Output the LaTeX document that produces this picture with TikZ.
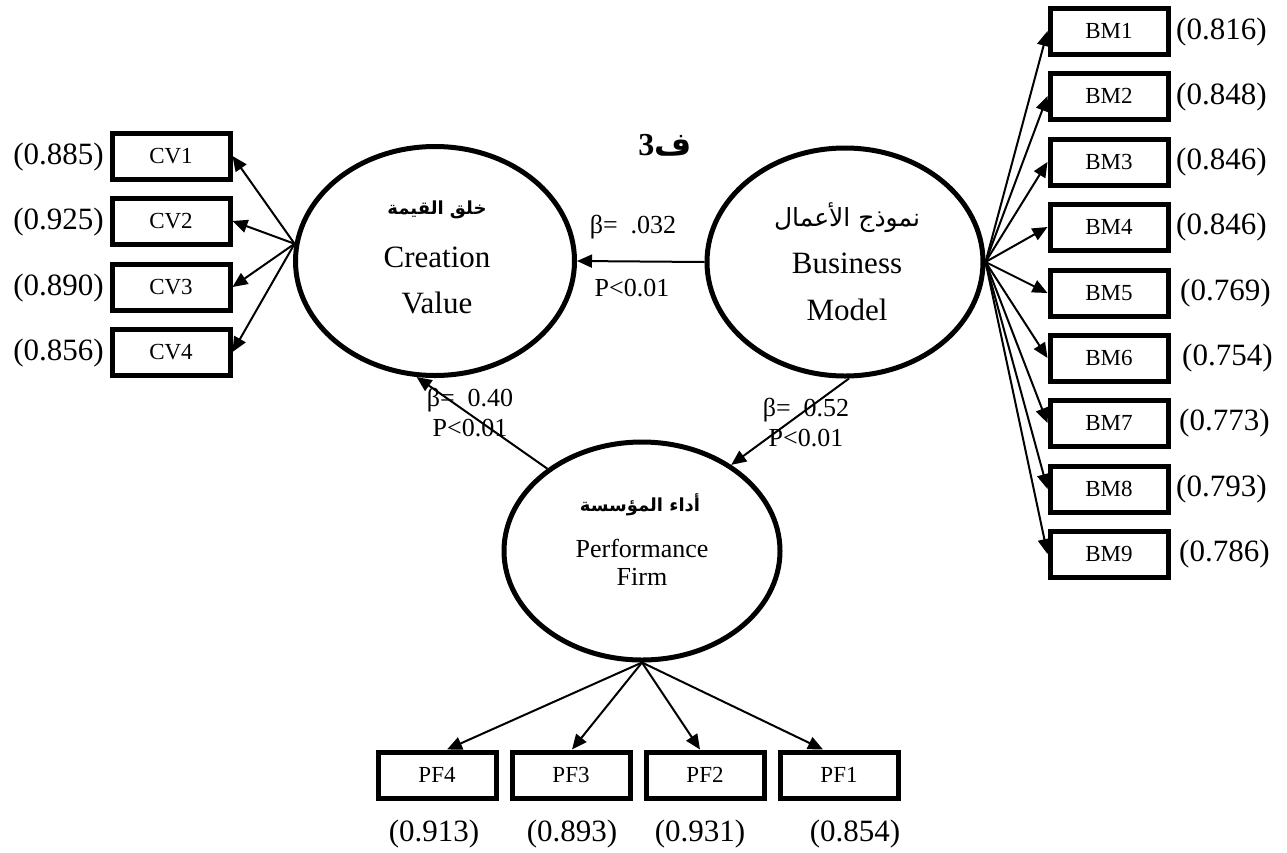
\documentclass[tikz,border=0pt]{standalone}
\usepackage{fontspec}
\setmainfont{Liberation Serif}
\newfontfamily\arabicfont[Script=Arabic]{DejaVu Sans}
\TeXXeTstate=1
\usetikzlibrary{shapes.geometric,arrows.meta}

\begin{document}
\begin{tikzpicture}[x=1pt,y=-1pt]
\tikzstyle{latent} = [draw, ellipse, line width=5pt, inner sep=0pt];
\tikzstyle{item} = [draw, rectangle, line width=5pt, minimum width=118pt, minimum height=46pt, inner sep=0pt, font=\fontsize{23}{25}\selectfont];
\tikzstyle{charge} = [inner sep=0pt, font=\fontsize{31}{34}\selectfont];
\tikzstyle{fleche} = [-{Triangle[length=15pt,width=13pt]}, line width=2pt];
\tikzstyle{coef} = [inner sep=0pt, align=center, font=\fontsize{26}{30}\selectfont];
\tikzstyle{nom} = [inner sep=0pt, font=\fontsize{31}{33}\selectfont];
\tikzstyle{nompf} = [inner sep=0pt, font=\fontsize{26}{28}\selectfont];
\tikzstyle{nomar} = [inner sep=0pt, font=\arabicfont\fontsize{25}{28}\selectfont];
\tikzstyle{nomarb} = [inner sep=0pt, font=\arabicfont\bfseries\fontsize{18}{22}\selectfont];

\useasboundingbox (0,0) rectangle (1287,852);

% variables latentes
\node[latent, minimum width=279pt, minimum height=229pt] (cv) at (435,261) {};
\node[latent, minimum width=276pt, minimum height=228pt] (bm) at (845,262) {};
\node[latent, minimum width=276pt, minimum height=218pt] (pf) at (642,551) {};

\node[nomarb] (cvar) at (437,210) {\beginR خلق القيمة\endR};
\node[nom] (cvnom1) at (437,257) {Creation};
\node[nom] (cvnom2) at (437,303) {Value};
\node[nomar] (bmar) at (847,218) {\beginR نموذج الأعمال\endR};
\node[nom] (bmnom1) at (847,263) {Business};
\node[nom] (bmnom2) at (847,310) {Model};
\node[nomarb] (pfar) at (640,505) {\beginR أداء المؤسسة\endR};
\node[nompf] (pfnom1) at (642,548) {Performance};
\node[nompf] (pfnom2) at (642,577) {Firm};

\node (titre) at (665,145) {\arabicfont\bfseries\fontsize{32}{34}\selectfont\beginR ف{\rmfamily 3}\endR};

% indicateurs
\node[item] (cv1) at (171,156) {CV1};
\node[item] (cv2) at (171,221) {CV2};
\node[item] (cv3) at (171,287) {CV3};
\node[item] (cv4) at (171,352) {CV4};

\node[item] (bm1) at (1109,31) {BM1};
\node[item] (bm2) at (1109,96) {BM2};
\node[item] (bm3) at (1109,162) {BM3};
\node[item] (bm4) at (1109,227) {BM4};
\node[item] (bm5) at (1109,293) {BM5};
\node[item] (bm6) at (1109,358) {BM6};
\node[item] (bm7) at (1109,423) {BM7};
\node[item] (bm8) at (1109,489) {BM8};
\node[item] (bm9) at (1109,554) {BM9};

\node[item] (pf4) at (437,775) {PF4};
\node[item] (pf3) at (571,775) {PF3};
\node[item] (pf2) at (705,775) {PF2};
\node[item] (pf1) at (839,775) {PF1};

% saturations
\node[charge, anchor=east] (lcv1) at (104,157) {(0.885)};
\node[charge, anchor=east] (lcv2) at (104,222) {(0.925)};
\node[charge, anchor=east] (lcv3) at (104,288) {(0.890)};
\node[charge, anchor=east] (lcv4) at (104,353) {(0.856)};

\node[charge, anchor=west] (lbm1) at (1176,32) {(0.816)};
\node[charge, anchor=west] (lbm2) at (1176,97) {(0.848)};
\node[charge, anchor=west] (lbm3) at (1176,162) {(0.846)};
\node[charge, anchor=west] (lbm4) at (1176,227) {(0.846)};
\node[charge, anchor=west] (lbm5) at (1180,293) {(0.769)};
\node[charge, anchor=west] (lbm6) at (1182,358) {(0.754)};
\node[charge, anchor=west] (lbm7) at (1179,423) {(0.773)};
\node[charge, anchor=west] (lbm8) at (1176,489) {(0.793)};
\node[charge, anchor=west] (lbm9) at (1179,554) {(0.786)};

\node[charge] (lpf4) at (434,834) {(0.913)};
\node[charge] (lpf3) at (572,834) {(0.893)};
\node[charge] (lpf2) at (700,834) {(0.931)};
\node[charge] (lpf1) at (855,834) {(0.854)};

\draw[fleche] (cv.173) -- (cv1.east);
\draw[fleche] (cv.173) -- (cv2.east);
\draw[fleche] (cv.173) -- (cv3.east);
\draw[fleche] (cv.173) -- (cv4.east);

\draw[fleche] (bm.east) -- (bm1.west);
\draw[fleche] (bm.east) -- (bm2.west);
\draw[fleche] (bm.east) -- (bm3.west);
\draw[fleche] (bm.east) -- (bm4.west);
\draw[fleche] (bm.east) -- (bm5.west);
\draw[fleche] (bm.east) -- (bm6.west);
\draw[fleche] (bm.east) -- (bm7.west);
\draw[fleche] (bm.east) -- (bm8.west);
\draw[fleche] (bm.east) -- (bm9.west);

\draw[fleche] (pf.south) -- ([xshift=10pt]pf4.north);
\draw[fleche] (pf.south) -- ([xshift=1pt]pf3.north);
\draw[fleche] (pf.south) -- ([xshift=-5pt]pf2.north);
\draw[fleche] (pf.south) -- ([xshift=-16pt]pf1.north);

% relations structurelles
\draw[fleche] (bm.west) -- (cv.east);
\draw[fleche] (bm.272) -- (pf.44);
\draw[fleche] (pf.139) -- (cv.261);

\node[coef] (b1) at (633,227) {β=\ \ .032};
\node[coef] (p1) at (632,288) {P<0.01};
\node[coef] (b2) at (470,413) {β=\ \ 0.40\\P<0.01};
\node[coef] (b3) at (806,423) {β=\ \ 0.52\\P<0.01};
\end{tikzpicture}
\end{document}
